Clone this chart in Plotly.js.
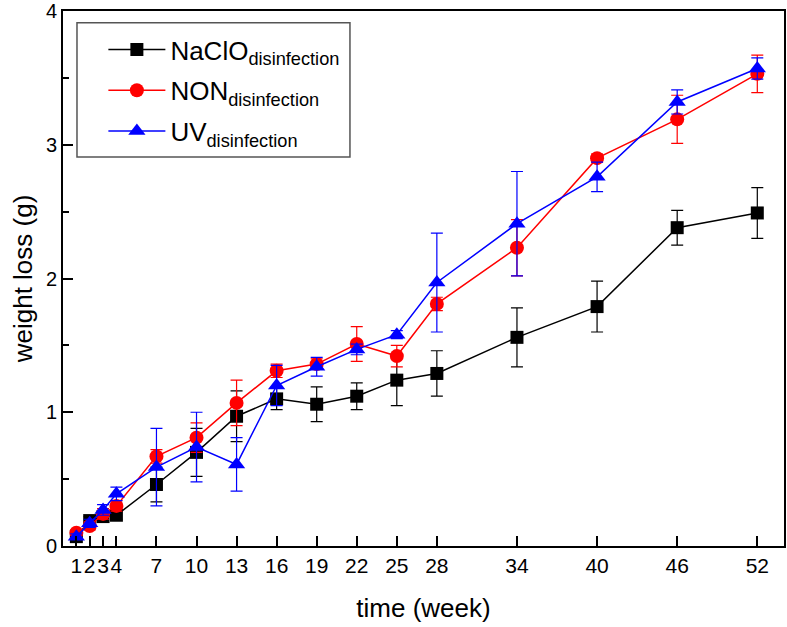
<!DOCTYPE html>
<html>
<head>
<meta charset="utf-8">
<script src="https://cdn.plot.ly/plotly-3.0.1.min.js"></script>
<style>html,body{margin:0;padding:0;background:#fff;}#chart{width:787px;height:627px;}</style>
</head>
<body>
<div id="chart"></div>
<script>
const weeks = [1,2,3,4,7,10,13,16,19,22,25,28,34,40,46,52];
const tickWeeks = [1,2,3,4,7,10,13,16,19,22,25,28,34,40,46,52];
const naclo    = [0.07,0.19,0.22,0.23,0.46,0.70,0.97,1.10,1.06,1.12,1.24,1.29,1.56,1.79,2.38,2.49];
const nacloErr = [0.02,0.03,0.03,0.03,0.13,0.18,0.19,0.08,0.13,0.10,0.19,0.17,0.22,0.19,0.13,0.19];
const non      = [0.10,0.15,0.24,0.30,0.67,0.81,1.07,1.31,1.36,1.51,1.42,1.81,2.23,2.90,3.19,3.53];
const nonErr   = [0.02,0.03,0.04,0.04,0.05,0.11,0.17,0.05,0.04,0.13,0.08,0.05,0.21,0.03,0.18,0.14];
const uv       = [0.07,0.17,0.27,0.39,0.59,0.74,0.61,1.20,1.34,1.47,1.58,1.97,2.41,2.76,3.32,3.57];
const uvErr    = [0.02,0.03,0.04,0.05,0.29,0.26,0.20,0.15,0.07,0.04,0.03,0.37,0.39,0.11,0.09,0.08];

function series(name, group, y, err, color, symbol, size) {
  return {
    x: weeks, y: y, name: name, legendgroup: group, type: 'scatter', mode: 'lines+markers',
    line: {color: color, width: 1.5},
    marker: {color: color, symbol: symbol, size: size},
    error_y: {type: 'data', array: err, visible: true, color: color, thickness: 1.2, width: 6}
  };
}

const data = [
  series('NaClO<sub>disinfection</sub>', 'a', naclo, nacloErr, '#000000', 'square', 13),
  series('NON<sub>disinfection</sub>', 'b', non, nonErr, '#ff0000', 'circle', 14),
  series('UV<sub>disinfection</sub>', 'c', uv, uvErr, '#0000ff', 'triangle-up', 15)
];

const layout = {
  width: 787, height: 627,
  margin: {l: 63, r: 3, t: 11, b: 81},
  paper_bgcolor: '#fff', plot_bgcolor: '#fff',
  font: {family: '"Liberation Sans", Arial, sans-serif', color: '#000', size: 21},
  showlegend: true,
  legend: {
    x: 0.056, y: 0.972, xanchor: 'left', yanchor: 'top',
    borderwidth: 0, bgcolor: 'rgba(0,0,0,0)',
    font: {size: 26, family: '"Liberation Sans", Arial, sans-serif'},
    traceorder: 'grouped', tracegroupgap: 4, itemwidth: 57
  },
  shapes: [{
    type: 'rect', xref: 'paper', yref: 'paper',
    x0: 0.0194, x1: 0.398, y0: 0.727, y1: 0.978,
    line: {color: '#555', width: 1.5}, fillcolor: 'rgba(0,0,0,0)', layer: 'above'
  }],
  xaxis: {
    range: [0, 54], tickmode: 'array', tickvals: tickWeeks, ticktext: tickWeeks.map(String),
    tickangle: 0,
    ticks: 'inside', ticklen: 10, tickwidth: 2, tickcolor: '#000',
    showline: true, linewidth: 2, linecolor: '#000', mirror: true,
    showgrid: false, zeroline: false,
    tickfont: {size: 21},
    title: {text: 'time (week)', font: {size: 26}, standoff: 23}
  },
  yaxis: {
    range: [0, 4], tickvals: [0,1,2,3,4],
    ticks: 'inside', ticklen: 10, tickwidth: 2, tickcolor: '#000',
    minor: {tickvals: [0.5,1.5,2.5,3.5], ticks: 'inside', ticklen: 6, tickwidth: 2, tickcolor: '#000', showgrid: false},
    showline: true, linewidth: 2, linecolor: '#000', mirror: true,
    showgrid: false, zeroline: false,
    tickfont: {size: 20},
    title: {text: 'weight loss (g)', font: {size: 26}, standoff: 6}
  }
};

Plotly.newPlot('chart', data, layout, {displayModeBar: false, staticPlot: true});
</script>
</body>
</html>
